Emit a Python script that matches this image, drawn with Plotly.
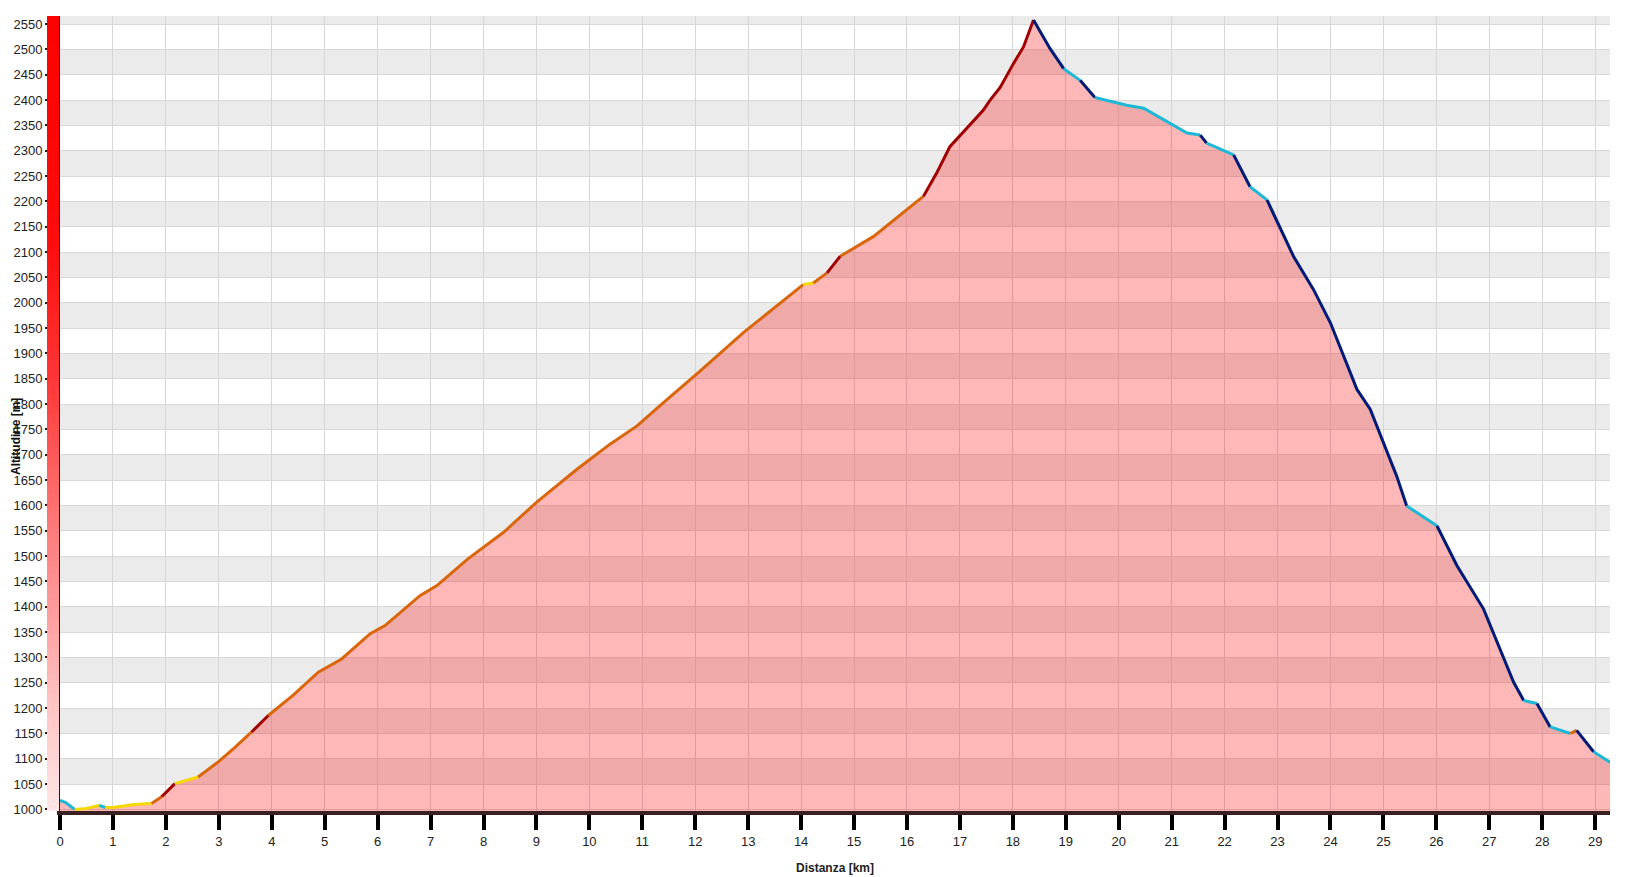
import numpy as np
import plotly.graph_objects as go

# elevation profile
distance_km = [0, 0.1, 0.28, 0.5, 0.74, 0.86, 1.0, 1.4, 1.73, 1.92, 2.17, 2.61, 2.99,
               3.3, 3.62, 3.81, 3.94, 4.4, 4.88, 5.32, 5.86, 6.14, 6.8, 7.12, 7.7,
               8.38, 9.0, 9.76, 10.39, 10.9, 11.4, 11.9, 12.09, 12.91, 13.54, 14.04,
               14.23, 14.49, 14.74, 15.37, 16.19, 16.31, 16.56, 16.81, 17.44, 17.57,
               17.76, 18.01, 18.2, 18.39, 18.7, 18.96, 19.27, 19.55, 20.15, 20.47,
               20.97, 21.29, 21.54, 21.66, 22.17, 22.48, 22.8, 23.3, 23.68, 24.0,
               24.5, 24.75, 25.25, 25.44, 26.01, 26.39, 26.89, 27.46, 27.65, 27.9,
               28.15, 28.53, 28.65, 28.97, 29.25, 29.28]
altitude_m = [1018, 1014, 1000, 1002, 1008, 1004, 1004, 1010, 1012, 1025, 1051, 1064, 1094,
              1122, 1153, 1173, 1186, 1225, 1271, 1297, 1347, 1363, 1422, 1442, 1494,
              1547, 1606, 1671, 1721, 1757, 1803, 1848, 1865, 1941, 1993, 2036,
              2039, 2059, 2092, 2131, 2200, 2210, 2256, 2308, 2380, 2400,
              2425, 2472, 2505, 2558, 2502, 2462, 2439, 2405, 2390, 2384,
              2354, 2335, 2331, 2315, 2292, 2229, 2203, 2092, 2026, 1960,
              1829, 1790, 1658, 1599, 1560, 1481, 1396, 1251, 1215, 1209,
              1163, 1150, 1156, 1114, 1094, 1093]

x_ticks = list(range(0, 30))
y_ticks = list(range(1000, 2551, 50))

X_MAX = 29.28
Y_MIN, Y_MAX = 997, 2566

GRADE_COLORS = {
    'flat': '#f5d800',
    'up': '#d9660b',
    'steep_up': '#a00000',
    'down': '#1cb8d6',
    'steep_down': '#001c78',
}


def grade_class(slope_pct):
    if slope_pct > 10:
        return 'steep_up'
    if slope_pct > 3.5:
        return 'up'
    if slope_pct >= -1.5:
        return 'flat'
    if slope_pct >= -10:
        return 'down'
    return 'steep_down'


fig = go.Figure()

# left colour bar
bar_y = np.linspace(Y_MIN, Y_MAX, 120)
fig.add_trace(go.Heatmap(
    x=[0], y=bar_y, z=[[v] for v in bar_y],
    xaxis='x2', yaxis='y', showscale=False, hoverinfo='skip',
    colorscale=[[0, '#ffe6e6'], [0.13, '#ffc4c4'], [0.35, '#ff7c7c'],
                [0.55, '#ff3434'], [0.72, '#ff0c0c'], [1, '#ff0000']],
))

# filled area under the profile
fig.add_trace(go.Scatter(
    x=distance_km, y=altitude_m, mode='lines', fill='tozeroy',
    fillcolor='rgba(255,0,0,0.28)', line=dict(width=0), hoverinfo='skip',
))

# profile line coloured by grade
runs = []
for i in range(len(distance_km) - 1):
    slope = (altitude_m[i + 1] - altitude_m[i]) / (distance_km[i + 1] - distance_km[i]) / 10
    cls = grade_class(slope)
    if runs and runs[-1][0] == cls:
        runs[-1][1].append(i + 1)
    else:
        runs.append([cls, [i, i + 1]])

for cls, idx in runs:
    fig.add_trace(go.Scatter(
        x=[distance_km[k] for k in idx], y=[altitude_m[k] for k in idx],
        mode='lines', line=dict(color=GRADE_COLORS[cls], width=3),
        hoverinfo='skip',
    ))

# alternating grey bands
shapes = []
for y0 in range(1050, Y_MAX, 100):
    shapes.append(dict(type='rect', xref='x', yref='y', x0=0, x1=X_MAX,
                       y0=y0, y1=min(y0 + 50, Y_MAX), fillcolor='#ebebeb',
                       line=dict(width=0), layer='below'))

W, H = 1638, 877
ML, MR, MT, MB = 47, 28, 16, 66
plot_w = W - ML - MR
plot_h = H - MT - MB
x_start = 13 / plot_w

tick_font = dict(family='Liberation Sans Narrow, Liberation Sans, sans-serif', size=13, color='#222')

fig.update_layout(
    width=W, height=H,
    margin=dict(l=ML, r=MR, t=MT, b=MB),
    paper_bgcolor='white', plot_bgcolor='white',
    showlegend=False,
    shapes=shapes,
    xaxis=dict(domain=[x_start, 1], range=[0, X_MAX], tickvals=x_ticks,
               ticks='outside', ticklen=15, tickwidth=4, tickcolor='black',
               showline=True, linecolor='#3a2020', linewidth=4,
               showgrid=True, gridcolor='#d6d6d6', gridwidth=1, zeroline=False,
               tickfont=tick_font, anchor='y'),
    xaxis2=dict(domain=[0, 12 / plot_w], range=[-0.5, 0.5], visible=False, anchor='y'),
    yaxis=dict(range=[Y_MIN, Y_MAX], tickvals=y_ticks,
               ticks='outside', ticklen=12, tickwidth=2, tickcolor='#3a1010',
               showline=True, linecolor='#2a1515', linewidth=3,
               showgrid=True, gridcolor='#d8d8d8', gridwidth=1, zeroline=False,
               tickfont=tick_font, anchor='x'),
    annotations=[
        dict(text='<b>Altitudine [m]</b>', textangle=-90, showarrow=False,
             xref='paper', yref='paper', x=(16 - ML) / plot_w, y=(H - MB - 437) / plot_h,
             xanchor='center', yanchor='middle',
             font=dict(family='Liberation Sans, sans-serif', size=12, color='#111')),
        dict(text='<b>Distanza [km]</b>', showarrow=False,
             xref='paper', yref='paper', x=(835 - ML) / plot_w, y=(H - MB - 868) / plot_h,
             xanchor='center', yanchor='middle',
             font=dict(family='Liberation Sans, sans-serif', size=12, color='#222')),
    ],
)

fig.write_html("out.html", config={'displayModeBar': False},
               post_script="document.body.style.margin='0';document.body.style.overflow='hidden';")
